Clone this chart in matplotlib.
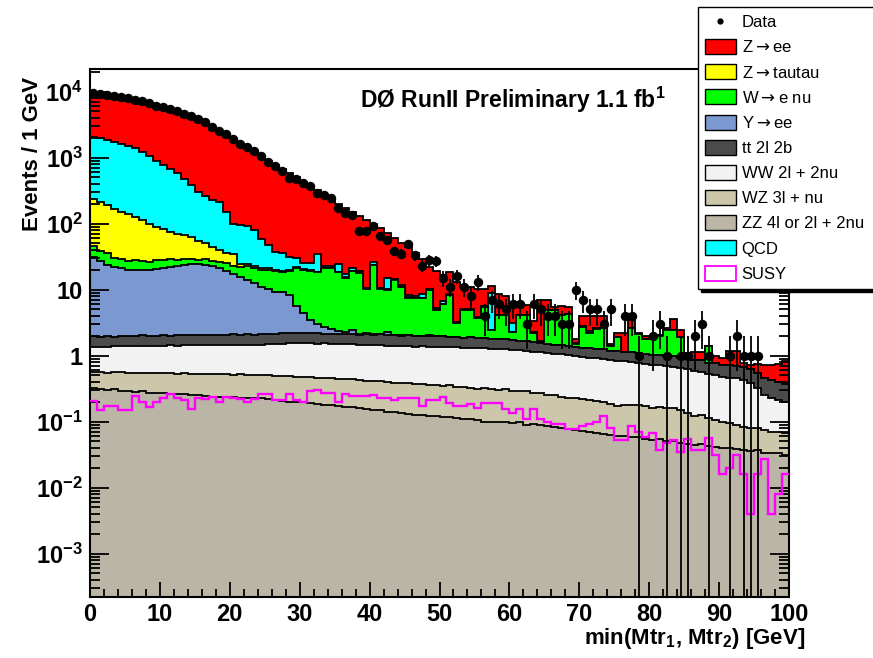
import numpy as np
import matplotlib
matplotlib.use('Agg')
import matplotlib.pyplot as plt
from matplotlib.patches import Patch
from matplotlib.lines import Line2D

plt.rcParams['font.family'] = ['Liberation Sans', 'DejaVu Sans']
plt.rcParams['mathtext.fontset'] = 'custom'
plt.rcParams['mathtext.rm'] = 'Liberation Sans:bold'
plt.rcParams['mathtext.it'] = 'Liberation Sans:bold'
plt.rcParams['mathtext.bf'] = 'Liberation Sans:bold'

# bin edges, 1 GeV bins from 0 to 100
edges = np.arange(0, 101, 1)

# data counts per bin
data = [9550, 9230, 9020, 8710, 8220, 7940, 7480, 7140, 6670, 6140,
        5810, 5470, 5050, 4590, 4240, 3850, 3440, 2880, 2570, 2290,
        1920, 1610, 1470, 1280, 1070, 871, 759, 631, 490, 468,
        407, 372, 288, 272, 243, 170, 145, 135, 76, 77,
        93, 66, 57, 38, 35, 49, 33, 23, 28, 27,
        15, 11, 16, 11, 8, 13, 4, 7, 6, 5,
        6, 6, 3, 6, 5, 4, 4, 3, 3, 10,
        7, 5, 5, 3, 5, 0, 4, 4, 1, 0,
        2, 3, 1, 0, 1, 1, 2, 3, 1, 0,
        0, 1, 2, 1, 1, 1, 0, 0, 0, 0]

# backgrounds (stacked bottom -> top)
zz = [0.32, 0.31, 0.30, 0.31, 0.29, 0.29, 0.28, 0.29, 0.27, 0.27,
      0.27, 0.26, 0.26, 0.26, 0.25, 0.25, 0.245, 0.24, 0.24, 0.235,
      0.235, 0.23, 0.23, 0.225, 0.225, 0.22, 0.21, 0.205, 0.20, 0.20,
      0.195, 0.19, 0.185, 0.18, 0.178, 0.172, 0.168, 0.166, 0.16, 0.155,
      0.152, 0.148, 0.142, 0.14, 0.135, 0.13, 0.128, 0.125, 0.122, 0.12,
      0.118, 0.117, 0.115, 0.11, 0.108, 0.105, 0.10, 0.10, 0.10, 0.098,
      0.095, 0.097, 0.09, 0.092, 0.088, 0.085, 0.082, 0.08, 0.076, 0.074,
      0.072, 0.07, 0.068, 0.065, 0.062, 0.06, 0.061, 0.058, 0.059, 0.055,
      0.053, 0.054, 0.05, 0.05, 0.048, 0.046, 0.044, 0.045, 0.042, 0.041,
      0.04, 0.04, 0.038, 0.037, 0.036, 0.037, 0.034, 0.034, 0.033, 0.031]

wz = [0.25, 0.26, 0.25, 0.26, 0.27, 0.26, 0.27, 0.26, 0.27, 0.28,
      0.27, 0.28, 0.27, 0.29, 0.28, 0.28, 0.29, 0.28, 0.28, 0.29,
      0.28, 0.29, 0.28, 0.28, 0.28, 0.29, 0.28, 0.28, 0.29, 0.28,
      0.28, 0.28, 0.27, 0.28, 0.28, 0.27, 0.28, 0.28, 0.27, 0.26,
      0.26, 0.27, 0.26, 0.25, 0.25, 0.26, 0.24, 0.25, 0.24, 0.24,
      0.23, 0.24, 0.22, 0.23, 0.22, 0.21, 0.22, 0.21, 0.20, 0.21,
      0.20, 0.19, 0.20, 0.18, 0.18, 0.17, 0.17, 0.16, 0.155, 0.15,
      0.15, 0.14, 0.14, 0.13, 0.12, 0.115, 0.12, 0.12, 0.12, 0.115,
      0.11, 0.115, 0.11, 0.11, 0.10, 0.09, 0.076, 0.08, 0.07, 0.065,
      0.06, 0.055, 0.052, 0.046, 0.045, 0.042, 0.04, 0.036, 0.036, 0.036]

ww = [0.80, 0.78, 0.80, 0.82, 0.83, 0.85, 0.84, 0.86, 0.88, 0.87,
      0.88, 0.90, 0.89, 0.91, 0.90, 0.92, 0.93, 0.92, 0.94, 0.93,
      0.95, 0.94, 0.96, 0.95, 0.96, 0.98, 1.00, 1.03, 1.06, 1.07,
      1.08, 1.07, 1.06, 1.07, 1.05, 1.06, 1.04, 1.05, 1.03, 1.04,
      1.02, 1.03, 1.02, 1.01, 1.03, 1.02, 1.00, 1.02, 1.01, 1.00,
      1.00, 0.99, 1.00, 0.98, 0.99, 0.97, 0.98, 0.96, 0.97, 0.95,
      0.93, 0.92, 0.90, 0.88, 0.86, 0.84, 0.82, 0.80, 0.78, 0.76,
      0.74, 0.72, 0.71, 0.69, 0.67, 0.65, 0.64, 0.62, 0.60, 0.58,
      0.57, 0.55, 0.53, 0.52, 0.50, 0.48, 0.46, 0.44, 0.41, 0.40,
      0.38, 0.37, 0.36, 0.35, 0.30, 0.24, 0.18, 0.16, 0.14, 0.13]

tt = [0.60, 0.58, 0.62, 0.55, 0.57, 0.60, 0.56, 0.61, 0.58, 0.55,
      0.60, 0.57, 0.62, 0.58, 0.63, 0.60, 0.59, 0.64, 0.61, 0.62,
      0.63, 0.60, 0.65, 0.62, 0.64, 0.66, 0.63, 0.65, 0.67, 0.64,
      0.66, 0.63, 0.65, 0.62, 0.64, 0.61, 0.65, 0.63, 0.60, 0.64,
      0.62, 0.65, 0.60, 0.63, 0.59, 0.64, 0.62, 0.60, 0.63, 0.61,
      0.62, 0.58, 0.60, 0.56, 0.57, 0.55, 0.53, 0.54, 0.50, 0.51,
      0.48, 0.47, 0.45, 0.44, 0.40, 0.42, 0.39, 0.40, 0.37, 0.38,
      0.36, 0.37, 0.35, 0.36, 0.34, 0.35, 0.33, 0.32, 0.33, 0.31,
      0.30, 0.31, 0.29, 0.30, 0.28, 0.29, 0.27, 0.28, 0.26, 0.27,
      0.25, 0.26, 0.24, 0.23, 0.24, 0.22, 0.21, 0.20, 0.19, 0.18]

y_ee = [29, 25, 22, 20, 19, 18, 18, 17.5, 18, 18.5,
        19, 20, 21, 21.5, 22, 22, 21.5, 20.5, 19, 17,
        15, 13.5, 12, 10.5, 9, 8, 7, 7, 6, 3.5,
        2.2, 1.3, 0.8, 0.6, 0.4, 0.25, 0.15, 0.35, 0.1, 0.08,
        0.06, 0.05, 0.25, 0.04, 0.03, 0.03, 0.02, 0.02, 0.02, 0.01,
        0.01, 0, 0, 0, 0, 0, 0, 0, 0, 0,
        0, 0, 0, 0, 0, 0, 0, 0, 0, 0,
        0, 0, 0, 0, 0, 0, 0, 0, 0, 0,
        0, 0, 0, 0, 0, 0, 0, 0, 0, 0,
        0, 0, 0, 0, 0, 0, 0, 0, 0, 0]

w_enu = [15, 12, 12, 8, 8, 7, 8, 7.5, 6, 7.5,
         7, 7, 5, 5.5, 5, 4, 5.5, 4.5, 5, 6,
         6, 6.5, 9, 8.5, 9, 10, 10, 9, 11, 15.5,
         15.6, 15.7, 15.2, 18.4, 18.6, 15.8, 12.9, 16.6, 15.9, 7.9,
         21.5, 7.95, 7.75, 12, 9, 5.5, 5.5, 5.5, 8, 3,
         4, 6.4, 1.2, 3.0, 3.0, 1.85, 3.7, 0.64, 2.3, 2.3,
         0.6, 2.4, 2.5, 0.6, 0.07, 3.4, 3.4, 2.7, 2.9, 0.14,
         1.4, 0.9, 1.3, 1.35, 0.2, 0.76, 0, 1.5, 1.0, 0.75,
         0.87, 0.97, 1.5, 1.5, 1.0, 0, 0, 0, 0.6, 0,
         0, 0, 0, 0, 0, 0, 0, 0, 0, 0]

z_tautau = [194, 176, 154, 135, 121, 111, 97, 85, 74, 62,
            54, 46, 42, 37, 33, 27, 21, 17, 14, 11,
            11, 2, 1.5, 2, 1, 1, 0.8, 0.7, 0.6, 0.5,
            0.45, 0.4, 0.35, 0.3, 0.28, 0.25, 0.22, 0.2, 0.18, 0.16,
            0.14, 0.12, 0.1, 0.09, 0.08, 0.07, 0.06, 0.05, 0.05, 0.04,
            0.04, 0.03, 0.03, 0.03, 0.02, 0.02, 0.02, 0.02, 0.01, 0.01,
            0, 0, 0, 0, 0, 0, 0, 0, 0, 0,
            0, 0, 0, 0, 0, 0, 0, 0, 0, 0,
            0, 0, 0, 0, 0, 0, 0, 0, 0, 0,
            0, 0, 0, 0, 0, 0, 0, 0, 0, 0]

qcd = [1810, 1735, 1660, 1585, 1470, 1362, 1255, 1088, 950, 810,
       698, 605, 520, 414, 318, 245, 210, 186, 170, 114,
       66, 71, 68, 58, 38, 26, 17, 17, 11, 8,
       5, 6, 16, 1.5, 1.5, 6, 2, 2, 1, 0.5,
       2, 0.5, 5, 0.5, 0.5, 0.5, 0.3, 1.0, 0.3, 0.3,
       0.8, 0.2, 0.1, 0.1, 0.1, 0.1, 0.1, 6.3, 0.1, 0.1,
       0.8, 0.1, 0.05, 0.05, 0.05, 0.05, 0.05, 0.05, 0.05, 0.05,
       0.05, 0.2, 0.03, 0.03, 0.03, 0, 0, 0, 0, 0,
       0, 0, 0, 0, 0, 0, 0, 0, 0, 0,
       0, 0, 0, 0, 0, 0, 0, 0, 0, 0]

z_ee = [6350, 6250, 6150, 6050, 5830, 5650, 5420, 5250, 5000, 4700,
        4470, 4220, 3960, 3670, 3420, 3150, 2840, 2420, 2140, 1930,
        1660, 1384, 1248, 1090, 922, 833, 733, 634, 549, 470,
        405, 345, 286, 252, 212, 171, 153, 129, 111, 104,
        74, 74, 57, 45, 40, 36, 28, 21, 12, 14,
        10, 9.7, 9.9, 6.1, 6.1, 6.3, 4.5, 2.7, 4.4, 3.9,
        2.9, 1.9, 1.7, 1.1, 5.4, 2.1, 0.6, 1.4, 1.2, 0.2,
        1.25, 1.6, 1.4, 1.4, 0.1, 0.26, 1.05, 0.9, 0.1, 0.2,
        0.05, 0.05, 0.1, 1.05, 0.55, 0.19, 0.3, 0.3, 0.0, 0.2,
        0.2, 0.45, 0.5, 0.1, 0.1, 0.2, 0.25, 0.3, 0.35, 0.45]

# signal (overlaid, not stacked)
susy = [0.206, 0.15, 0.17, 0.17, 0.15, 0.15, 0.245, 0.2, 0.165, 0.2,
        0.23, 0.26, 0.23, 0.21, 0.155, 0.23, 0.22, 0.24, 0.2, 0.24,
        0.23, 0.22, 0.2, 0.22, 0.26, 0.26, 0.21, 0.21, 0.26, 0.21,
        0.2, 0.295, 0.3, 0.275, 0.275, 0.2, 0.26, 0.245, 0.245, 0.245,
        0.25, 0.23, 0.23, 0.21, 0.23, 0.225, 0.225, 0.17, 0.21, 0.21,
        0.24, 0.19, 0.175, 0.175, 0.185, 0.16, 0.19, 0.19, 0.19, 0.155,
        0.134, 0.155, 0.108, 0.155, 0.11, 0.1, 0.092, 0.092, 0.077, 0.077,
        0.085, 0.092, 0.098, 0.12, 0.08, 0.053, 0.053, 0.085, 0.07, 0.058,
        0.067, 0.037, 0.048, 0.053, 0.035, 0.054, 0.037, 0.037, 0.056, 0.031,
        0.016, 0.02, 0.031, 0.016, 0.004, 0.016, 0.027, 0.004, 0.008, 0.016]

# stack order, bottom -> top
stack = [(zz, '#bbb5a5'), (wz, '#ccc7ab'), (ww, '#f2f2f2'), (tt, '#4b4b4b'),
         (y_ee, '#7b99d0'), (w_enu, '#00ff00'), (z_tautau, '#ffff00'),
         (qcd, '#00ffff'), (z_ee, '#ff0000')]
cum = np.cumsum(np.array([s[0] for s in stack], dtype=float), axis=0)

fig = plt.figure(figsize=(8.73, 6.58), dpi=100)
ax = fig.add_axes([90 / 873, 1 - 597 / 658, 699 / 873, 528 / 658])
ax.set_yscale('log')

# draw from the top of the stack down so lower layers cover upper fills
for i in reversed(range(len(stack))):
    ax.stairs(cum[i], edges, baseline=1e-7, fill=True, color=stack[i][1], lw=0)
    ax.stairs(cum[i], edges, baseline=None, color='k', lw=1.3)

ax.stairs(susy, edges, baseline=None, color='#ff00ff', lw=1.7, zorder=4)

counts = np.array(data, dtype=float)
centers = edges[:-1] + 0.5
m = counts > 0
ax.errorbar(centers[m], counts[m], yerr=np.sqrt(counts[m]), fmt='o', color='k',
            ms=5.8, elinewidth=1.3, capsize=0, zorder=5)

ax.set_xlim(0, 100)
ax.set_ylim(2.2e-4, 2.2e4)

ax.set_xticks(range(0, 101, 10))
ax.set_xticks(range(0, 101, 2), minor=True)
ax.set_xticklabels([str(v) for v in range(0, 101, 10)])
yt = [1e-3, 1e-2, 1e-1, 1, 10, 1e2, 1e3, 1e4]
ax.set_yticks(yt)
ax.set_yticklabels([r'$10^{-3}$', r'$10^{-2}$', r'$10^{-1}$', '1', '10',
                    r'$10^{2}$', r'$10^{3}$', r'$10^{4}$'])
ax.yaxis.set_minor_locator(matplotlib.ticker.LogLocator(base=10, subs=np.arange(2, 10), numticks=20))
ax.yaxis.set_minor_formatter(matplotlib.ticker.NullFormatter())

ax.tick_params(which='both', direction='in', top=False, right=True, width=1.3)
ax.tick_params(axis='y', which='major', length=14, pad=5, labelsize=17)
ax.tick_params(axis='y', which='minor', length=7)
ax.tick_params(axis='x', which='major', length=11, pad=4, labelsize=17)
ax.tick_params(axis='x', which='minor', length=6)
for lab in ax.get_xticklabels() + ax.get_yticklabels():
    lab.set_fontweight('bold')
for sp in ax.spines.values():
    sp.set_linewidth(1.5)

fig.text(33 / 873, 1 - 77 / 658, 'Events / 1 GeV', rotation=90, ha='center', va='top',
         fontsize=16, fontweight='bold')
fig.text(805 / 873, 1 - 644 / 658, r'min(Mtr$_{1}$, Mtr$_{2}$) [GeV]', ha='right',
         va='baseline', fontsize=16, fontweight='bold')
fig.text(666 / 873, 1 - 100 / 658, r'DØ RunII Preliminary 1.1 fb$^{1}$', ha='right',
         va='center', fontsize=16.5, fontweight='bold')

handles = [Line2D([], [], marker='o', color='k', ls='none', ms=3.5),
           Patch(fc='#ff0000', ec='k'), Patch(fc='#ffff00', ec='k'),
           Patch(fc='#00ff00', ec='k'), Patch(fc='#7b99d0', ec='k'),
           Patch(fc='#4b4b4b', ec='k'), Patch(fc='#f2f2f2', ec='k'),
           Patch(fc='#ccc7ab', ec='k'), Patch(fc='#bbb5a5', ec='k'),
           Patch(fc='#00ffff', ec='k'), Patch(fc='white', ec='#ff00ff', lw=1.3)]
labels = ['Data', r'Z$\rightarrow$ee', r'Z$\rightarrow$tautau', r'W$\rightarrow$e nu',
          r'Y$\rightarrow$ee', 'tt 2l 2b', 'WW 2l + 2nu', 'WZ 3l + nu',
          'ZZ 4l or 2l + 2nu', 'QCD', 'SUSY']
leg = fig.legend(handles, labels, loc='upper left',
                 bbox_to_anchor=(698 / 873, 0, 185 / 873, 1 - 7 / 658),
                 bbox_transform=fig.transFigure, mode='expand', fontsize=12,
                 handlelength=1.84, handleheight=1.0, handletextpad=0.36,
                 labelspacing=0.54, borderpad=0.42, borderaxespad=0,
                 fancybox=False, shadow={'color': 'k', 'alpha': 1}, framealpha=1)
for t in leg.get_texts():
    t.set_math_fontfamily('dejavusans')
leg.get_frame().set_edgecolor('k')
leg.get_frame().set_linewidth(1.0)

fig.savefig('out.png', dpi=100)
